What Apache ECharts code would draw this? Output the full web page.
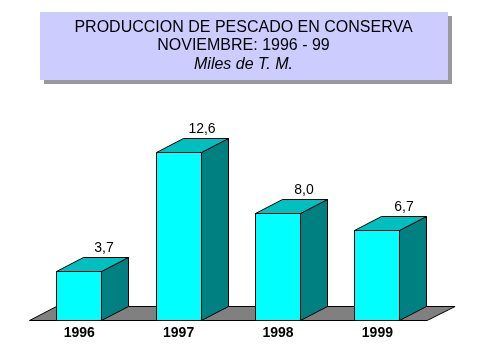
<!DOCTYPE html>
<html><head><meta charset="utf-8">
<style>html,body{margin:0;padding:0;background:#fff}#c{width:479px;height:359px}</style>
<script src="https://cdn.jsdelivr.net/npm/echarts@6/dist/echarts.min.js"></script>
</head><body><div id="c"></div>
<script>
var categories = ['1996','1997','1998','1999'];
var values = [3.7,12.6,8.0,6.7];
var titleLines = ['PRODUCCION DE PESCADO EN CONSERVA','NOVIEMBRE: 1996 - 99'];
var subtitleText = 'Miles de T. M.';
var labelShift = [25,23,26,27];

var DX = 27, DY = -14, BAR = 45;
var chart = echarts.init(document.getElementById('c'), null, {renderer:'canvas'});
var stroke = {stroke:'#000', lineWidth:1};
function poly(pts, fill, z){
  return {type:'polygon', z2:z||0, shape:{points:pts}, style:Object.assign({fill:fill}, stroke)};
}
chart.setOption({
  animation:false,
  backgroundColor:'#fff',
  graphic:[
    {type:'rect', z:-2, silent:true, shape:{x:44,y:16,width:408,height:68}, style:{fill:'#999999'}},
    {type:'rect', z:-1, silent:true, shape:{x:40,y:12,width:408,height:68}, style:{fill:'#CCCCFF'}}
  ],
  title:{
    text:titleLines.join('\n'),
    subtext:subtitleText,
    left:243.5, top:18, textAlign:'center', itemGap:0, padding:0,
    textStyle:{fontFamily:'Liberation Sans',fontSize:16,fontWeight:'normal',color:'#000',lineHeight:18.5},
    subtextStyle:{fontFamily:'Liberation Sans',fontSize:16,fontStyle:'italic',color:'#000',lineHeight:18.5}
  },
  grid:{left:29.5,width:397.6,top:119.9,height:200.7},
  xAxis:{type:'category',data:categories,
    axisLine:{show:false},axisTick:{show:false},splitLine:{show:false},
    axisLabel:{margin:6,fontFamily:'Liberation Sans',fontSize:14,fontWeight:'bold',color:'#000'}},
  yAxis:{type:'value',min:0,max:15,show:false},
  series:[
    {type:'custom',z:1,silent:true,data:[0],
      encode:{x:0,y:0},
      renderItem:function(p,api){
        var band = api.size([1,0])[0];
        var a = api.coord([0,0]), b = api.coord([categories.length-1,0]);
        var l = a[0]-band/2, r = b[0]+band/2, y = Math.floor(a[1])+0.5;
        return poly([[l,y],[r,y],[r+DX+1,y+DY],[l+DX,y+DY]],'#808080');
      }},
    {type:'custom',z:2,silent:true,
      data:values.map(function(v,i){return [i,v];}),
      encode:{x:0,y:1},
      renderItem:function(p,api){
        var i = api.value(0);
        var c = api.coord([i,api.value(1)]);
        var b = api.coord([i,0]);
        var l = Math.floor(c[0]-BAR/2)+0.5, r = l+BAR, t = Math.floor(c[1])+0.5, y = Math.floor(b[1])+0.5;
        return {type:'group',children:[
          poly([[r,t],[r+DX,t+DY],[r+DX,y+DY],[r,y]],'#008080'),
          poly([[l,t],[l+DX,t+DY],[r+DX,t+DY],[r,t]],'#00BFBF'),
          poly([[l,t],[r,t],[r,y],[l,y]],'#00FFFF'),
          {type:'text',style:{x:(l+r)/2+labelShift[i],y:t+DY-2,text:api.value(1).toFixed(1).replace('.',','),
            align:'center',verticalAlign:'bottom',fill:'#000',
            font:'14px "Liberation Sans"'}}
        ]};
      }}
  ]
});
</script></body></html>
